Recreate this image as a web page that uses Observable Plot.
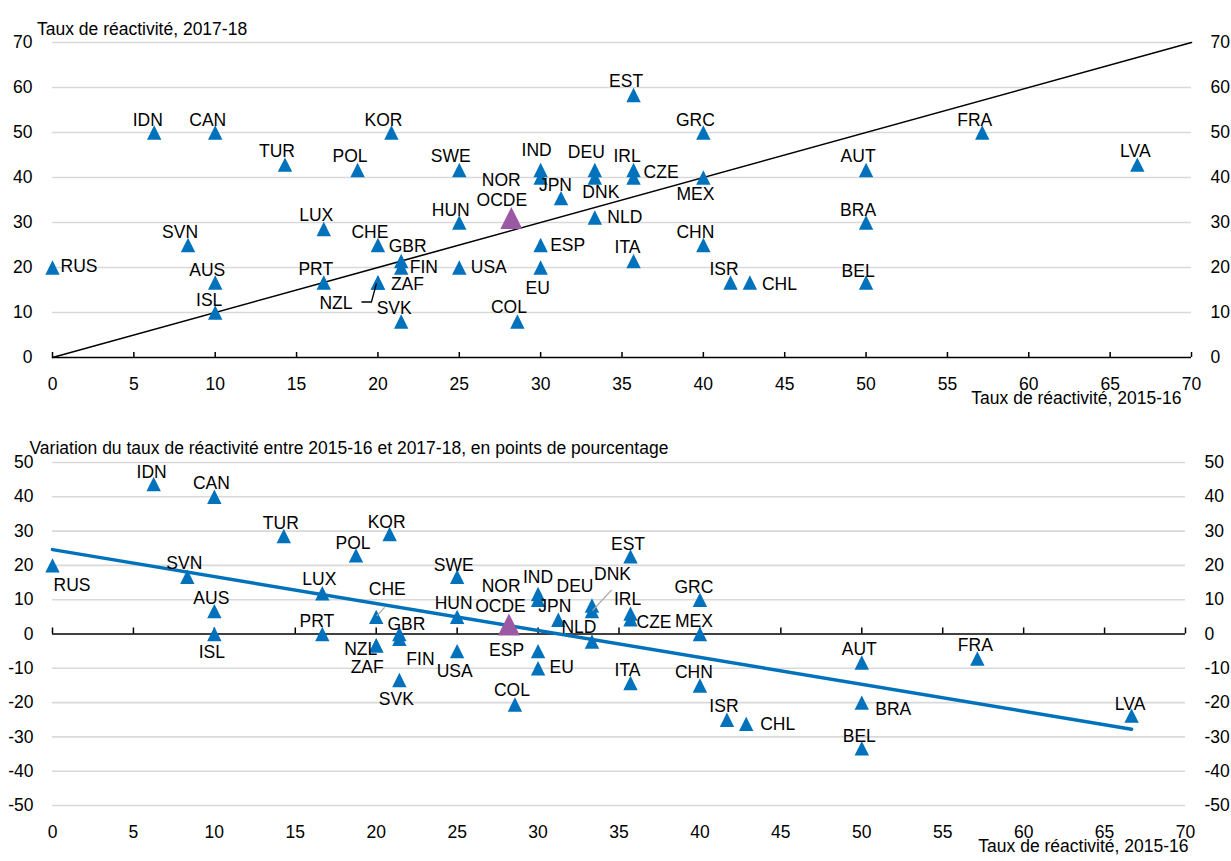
<!DOCTYPE html>
<html>
<head>
<meta charset="utf-8">
<script src="https://cdn.jsdelivr.net/npm/d3@7"></script>
<script src="https://cdn.jsdelivr.net/npm/@observablehq/plot@0.6"></script>
<style>
  body { margin: 0; background: #fff; }
  #chart svg { display: block; }
</style>
</head>
<body>
<div id="chart"></div>
<script>
// ---- Data -------------------------------------------------------------
const countries = ["RUS","IDN","CAN","TUR","POL","KOR","SVN","AUS","ISL","LUX","PRT","CHE","NZL","ZAF","GBR","FIN","SVK","HUN","SWE","USA","OCDE","COL","IND","NOR","ESP","EU","JPN","DEU","DNK","NLD","EST","IRL","CZE","ITA","GRC","MEX","CHN","ISR","CHL","AUT","BRA","BEL","FRA","LVA"];
// Taux de réactivité 2015-16
const rate1516 = [0,6.25,10,14.29,18.75,20.83,8.33,10,10,16.67,16.67,20,20,20,21.43,21.43,21.43,25,25,25,28.2,28.57,30,30,30,30,31.25,33.33,33.33,33.33,35.71,35.71,35.71,35.71,40,40,40,41.67,42.86,50,50,50,57.14,66.67];
// Taux de réactivité 2017-18
const rate1718 = [20,50,50,42.86,41.67,50,25,16.67,10,28.57,16.67,25,16.67,16.67,21.43,20,8,30,41.67,20,31,8,41.67,40,25,20,35.42,41.67,40,31.1,58.33,41.67,40,21.43,50,40,25,16.67,16.67,41.67,30,16.67,50,42.86];
// Variation 2015-16 -> 2017-18, points de pourcentage
const change = [20,43.75,40,28.57,22.92,29.17,16.67,6.67,0,11.9,0,5,-3.33,-3.33,0,-1.43,-13.43,5,16.67,-5,2.8,-20.57,11.67,10,-5,-10,4.17,8.33,6.67,-2.2,22.62,5.95,4.29,-14.29,10,0,-15,-25,-26.19,-8.33,-20,-33.33,-7.14,-23.81];
const aggregate = "OCDE";

const xTicks = [0,5,10,15,20,25,30,35,40,45,50,55,60,65,70];
const topYTicks = [0,10,20,30,40,50,60,70];
const bottomYTicks = [-50,-40,-30,-20,-10,0,10,20,30,40,50];

// 45-degree reference line and fitted trend of the variation
const diagX = [0, 70];
const diagY = [0, 70];
const trendX = [0, 66.67];
const trendY = [24.6, -27.75];

const topTitle = "Taux de réactivité, 2017-18";
const bottomTitle = "Variation du taux de réactivité entre 2015-16 et 2017-18, en points de pourcentage";
const xTitle = "Taux de réactivité, 2015-16";

// ---- Styling ----------------------------------------------------------
const FONT = "'Liberation Sans', Arial, Helvetica, sans-serif";
const BLUE = "#0072BC";
const PURPLE = "#9B59A4";
const GRID = "#d9d9d9";
const LEADER = "#a6a6a6";

// label placement: [dx, dy, text-anchor]
const topPlace = {
  RUS:[8,-1.5,"start"], IDN:[-6.5,-12.5,"middle"], CAN:[-7.5,-12.5,"middle"], TUR:[-8,-13,"middle"],
  POL:[-7.5,-13.5,"middle"], KOR:[-8,-12.5,"middle"], SWE:[-8.5,-13.5,"middle"], IND:[-4,-19.5,"middle"],
  NOR:[-20,2.5,"end"], JPN:[-5.5,-12.5,"middle"], DEU:[-8.5,-18,"middle"], DNK:[6,14.5,"middle"],
  IRL:[-6.5,-14,"middle"], CZE:[10,-5,"start"], EST:[-7.5,-13.5,"middle"], GRC:[-8,-12.5,"middle"],
  MEX:[-8,16.5,"middle"], AUT:[-8,-13.5,"middle"], FRA:[-7.5,-12.5,"middle"], LVA:[-2,-13,"middle"],
  BRA:[-8,-12.5,"middle"], BEL:[-8,-11,"middle"], HUN:[-8.5,-12.5,"middle"], OCDE:[-9.5,-17.5,"middle"],
  NLD:[12.5,-0.5,"start"], ESP:[9.5,0,"start"], USA:[11.5,0,"start"], EU:[-3,21,"middle"],
  COL:[-8.5,-14,"middle"], ITA:[-6,-13.5,"middle"], CHN:[-8,-13,"middle"], ISR:[-6.5,-13.5,"middle"],
  CHL:[12,1.5,"start"], LUX:[-7.5,-13.5,"middle"], SVN:[-8,-13,"middle"], AUS:[-8,-12.5,"middle"],
  ISL:[-6,-12,"middle"], PRT:[-8,-13,"middle"], CHE:[-8,-13,"middle"], GBR:[6.5,-15,"middle"],
  FIN:[8.5,-0.5,"start"], ZAF:[13,2,"start"], NZL:[-42,21,"middle"], SVK:[-7,-13.5,"middle"]
};
const bottomPlace = {
  RUS:[1,20,"start"], IDN:[-2,-11.5,"middle"], CAN:[-3,-13.5,"middle"], TUR:[-3,-13,"middle"],
  KOR:[-3,-12,"middle"], POL:[-3,-12,"middle"], SVN:[-3,-13,"middle"], AUS:[-3,-13,"middle"],
  ISL:[-2.5,18,"middle"], LUX:[-3,-13.5,"middle"], PRT:[-5.5,-12.5,"middle"], CHE:[11,-27.5,"middle"],
  GBR:[7,-10,"middle"], NZL:[-15.5,3.5,"middle"], ZAF:[-9,22,"middle"], FIN:[7,20,"start"],
  SVK:[-3,19,"middle"], HUN:[-3.5,-13,"middle"], SWE:[-3.5,-11.5,"middle"], USA:[-2.5,20,"middle"],
  OCDE:[-8.5,-18,"middle"], NOR:[-37,-13.5,"middle"], IND:[0,-17,"middle"], JPN:[-3.5,-13.5,"middle"],
  DEU:[-17,-19,"middle"], DNK:[20.5,-36.5,"middle"], NLD:[-13,-14,"middle"], ESP:[-14,-0.5,"end"],
  EU:[11.5,-0.5,"start"], COL:[-3,-14.5,"middle"], EST:[-2.5,-12.5,"middle"], IRL:[-3,-14,"middle"],
  CZE:[6,3.5,"start"], GRC:[-6,-12.5,"middle"], MEX:[-6,-12.5,"middle"], ITA:[-3,-13,"middle"],
  CHN:[-6,-13,"middle"], ISR:[-3,-13,"middle"], CHL:[14,0.5,"start"], AUT:[-2.5,-13.5,"middle"],
  FRA:[-2,-13,"middle"], BRA:[13.5,7,"start"], BEL:[-2.5,-12,"middle"], LVA:[-1.5,-11.5,"middle"]
};
// leader lines: country -> pixel path relative to its marker
const topLeaders = { NZL: { stroke: "#000", pts: [[-16,20],[-6,20],[-1,1.5]] } };
const bottomLeaders = {
  CHE: { stroke: LEADER, pts: [[9,-9],[1,-0.5]] },
  DNK: { stroke: LEADER, pts: [[20,-20.5],[1,0]] }
};

// ---- Build -------------------------------------------------------------
const rows = countries.map((c, i) => ({country: c, x: rate1516[i], y: rate1718[i], d: change[i]}));
const plain = rows.filter(r => r.country !== aggregate);
const agg = rows.filter(r => r.country === aggregate);

// isosceles triangle centred on its bounding box
const triangle = {
  draw(ctx, size) {
    const r = Math.sqrt(size / Math.PI);
    ctx.moveTo(0, -r); ctx.lineTo(r, r); ctx.lineTo(-r, r); ctx.closePath();
  }
};

const fmt = d => String(d);

function labels(yKey, place) {
  return rows.map(r => {
    const [dx, dy, a] = place[r.country];
    return Plot.text([r], {x: "x", y: yKey, text: "country", dx, dy, textAnchor: a, fill: "#000"});
  });
}

function addLeaders(svg, yKey, leaders) {
  const sx = svg.scale("x"), sy = svg.scale("y");
  const x = d3.scaleLinear(sx.domain, sx.range);
  const y = d3.scaleLinear(sy.domain, sy.range);
  const g = d3.select(svg).append("g");
  for (const [c, spec] of Object.entries(leaders)) {
    const r = rows.find(d => d.country === c);
    const px = x(r.x), py = y(r[yKey]);
    g.append("path")
      .attr("d", "M" + spec.pts.map(([dx, dy]) => `${px + dx},${py + dy}`).join("L"))
      .attr("fill", "none")
      .attr("stroke", spec.stroke)
      .attr("stroke-width", 1.3);
  }
}

const chartStyle = {fontFamily: FONT, fontSize: "17.5px", color: "#000", background: "#fff", overflow: "visible"};

const topChart = Plot.plot({
  width: 1231, height: 420,
  marginLeft: 52, marginRight: 40, marginTop: 42, marginBottom: 63,
  style: chartStyle,
  x: {domain: [0, 70], label: null},
  y: {domain: [0, 70], label: null},
  marks: [
    Plot.ruleY(topYTicks.filter(v => v !== 0), {stroke: GRID, strokeWidth: 1.6}),
    Plot.ruleY([0], {stroke: "#000", strokeWidth: 1.5}),
    Plot.ruleX(xTicks, {x: d => d, y1: 0, y2: 0, insetBottom: 5, stroke: "#000", strokeWidth: 1.5}),
    Plot.axisX(xTicks, {tickSize: 0, tickPadding: 20, tickFormat: fmt, label: null}),
    Plot.axisY(topYTicks, {anchor: "left", tickSize: 0, tickPadding: 20, tickFormat: fmt, label: null}),
    Plot.axisY(topYTicks, {anchor: "right", tickSize: 0, tickPadding: 19, tickFormat: fmt, label: null}),
    Plot.line(diagX.map((v, i) => ({x: v, y: diagY[i]})), {x: "x", y: "y", stroke: "#000", strokeWidth: 1.6}),
    Plot.dot(plain, {x: "x", y: "y", symbol: triangle, r: 7.2, fill: BLUE}),
    Plot.dot(agg, {x: "x", y: "y", symbol: triangle, r: 11, fill: PURPLE}),
    ...labels("y", topPlace),
    Plot.text([topTitle], {text: d => d, frameAnchor: "top-left", textAnchor: "start", dx: -15.5, dy: -19.5, fill: "#000"}),
    Plot.text([xTitle], {text: d => d, frameAnchor: "bottom-right", textAnchor: "end", dx: -10, dy: 46.5, fill: "#000"})
  ]
});
addLeaders(topChart, "y", topLeaders);

const bottomChart = Plot.plot({
  width: 1231, height: 441,
  marginLeft: 52, marginRight: 46, marginTop: 42, marginBottom: 56,
  style: chartStyle,
  x: {domain: [0, 70], label: null},
  y: {domain: [-50, 50], label: null},
  marks: [
    Plot.ruleY(bottomYTicks.filter(v => v !== 0), {stroke: GRID, strokeWidth: 1.6}),
    Plot.ruleY([0], {stroke: "#000", strokeWidth: 1.5}),
    Plot.ruleX(xTicks, {x: d => d, y1: 0, y2: 0, insetBottom: 6, stroke: "#000", strokeWidth: 1.5}),
    Plot.axisX(xTicks, {tickSize: 0, tickPadding: 20, tickFormat: fmt, label: null}),
    Plot.axisY(bottomYTicks, {anchor: "left", tickSize: 0, tickPadding: 19, tickFormat: fmt, label: null}),
    Plot.axisY(bottomYTicks, {anchor: "right", tickSize: 0, tickPadding: 19, tickFormat: fmt, label: null}),
    Plot.line(trendX.map((v, i) => ({x: v, y: trendY[i]})), {x: "x", y: "y", stroke: BLUE, strokeWidth: 3.5}),
    Plot.dot(plain, {x: "x", y: "d", symbol: triangle, r: 7.2, fill: BLUE}),
    Plot.dot(agg, {x: "x", y: "d", symbol: triangle, r: 11, fill: PURPLE}),
    ...labels("d", bottomPlace),
    Plot.text([bottomTitle], {text: d => d, frameAnchor: "top-left", textAnchor: "start", dx: -23, dy: -21, fill: "#000"}),
    Plot.text([xTitle], {text: d => d, frameAnchor: "bottom-right", textAnchor: "end", dx: 3, dy: 46.5, fill: "#000"})
  ]
});
addLeaders(bottomChart, "d", bottomLeaders);

document.getElementById("chart").append(topChart, bottomChart);
</script>
</body>
</html>
